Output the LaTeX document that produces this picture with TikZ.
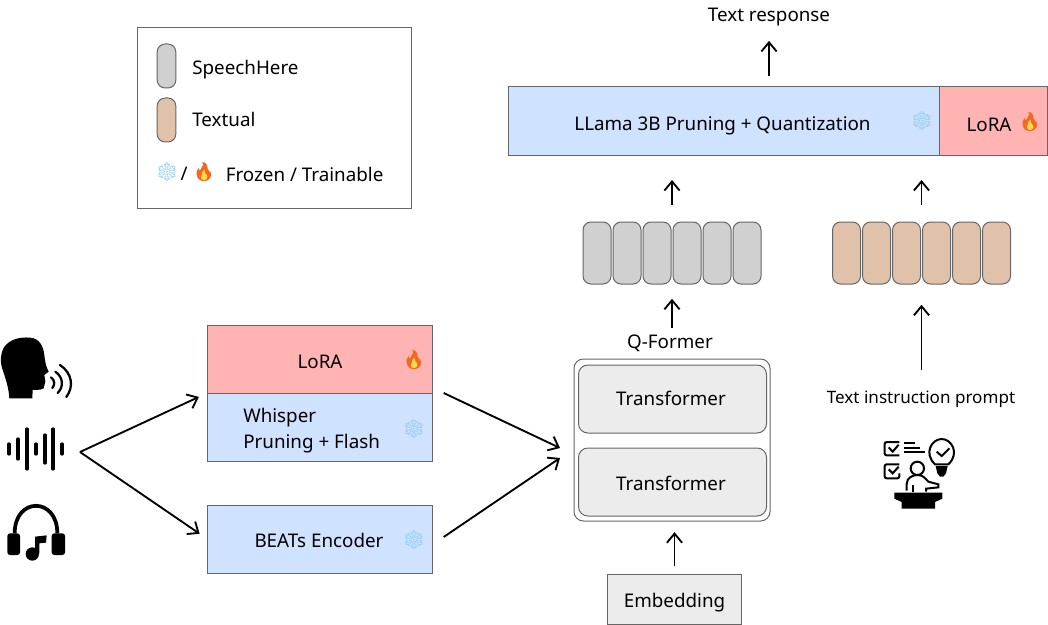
\documentclass[tikz,border=0pt]{standalone}
\usepackage{fontspec}
\usepackage{xcolor}
\usetikzlibrary{arrows.meta, positioning, fit}
\setmainfont{Noto Sans}
\newfontfamily\emojifont{Noto Emoji}
\definecolor{frozenblue}{HTML}{CFE2FF}
\definecolor{lorared}{HTML}{FFB3B3}
\definecolor{speechgray}{HTML}{D0D0D0}
\definecolor{texttan}{HTML}{DFC2A9}
\definecolor{lightgray}{HTML}{ECECEC}
\definecolor{edgegray}{HTML}{666666}
\definecolor{snowblue}{HTML}{8CCBF3}
\definecolor{flameorange}{HTML}{F4691F}
\definecolor{flameyellow}{HTML}{FFD84D}
\newcommand{\snowicon}{{\emojifont\fontsize{14pt}{14pt}\selectfont\textcolor{snowblue}{❄}}}
\newcommand{\flameicon}{{\emojifont\fontsize{14pt}{14pt}\selectfont\textcolor{flameorange}{🔥}}}

\begin{document}
\begin{tikzpicture}[
    x=0.75pt, y=-0.75pt,
    font=\fontsize{14.1pt}{20pt}\selectfont,
    box/.style={draw=edgegray, line width=0.75pt, align=center, inner sep=0pt, outer sep=0pt},
    frozen/.style={box, fill=frozenblue},
    lora/.style={box, fill=lorared},
    token/.style={draw=edgegray, line width=0.75pt, rounded corners=6pt, minimum width=21pt, minimum height=46.5pt, inner sep=0pt},
    speechtoken/.style={token, fill=speechgray},
    texttoken/.style={token, fill=texttan},
    blockbox/.style={draw=edgegray, line width=0.75pt, rounded corners=7pt, fill=lightgray, minimum width=141pt, minimum height=51pt},
    label/.style={inner sep=0pt},
    arrow/.style={-{Straight Barb[length=2.4mm, width=4mm]}, line width=1.4pt},
    flamefill/.pic={
        \fill[flameorange] (0,8.5) .. controls (-5,8.5) and (-7,5) .. (-6.5,1) .. controls (-6,-2) and (-4,-3) .. (-3.5,-2) .. controls (-3,-5) and (-1,-7) .. (1,-8.5) .. controls (1,-5) and (6,-2) .. (6.5,3) .. controls (6.5,6) and (4,8.5) .. (0,8.5) -- cycle;
        \fill[flameyellow] (0,8) .. controls (-3,8) and (-4,5) .. (-3,2.5) .. controls (-2,1) and (-1,-1) .. (0,-2.5) .. controls (1,0) and (4,3) .. (3.5,5.5) .. controls (3,7.5) and (1.5,8) .. (0,8) -- cycle;
    }
]
\useasboundingbox (0,0) rectangle (1048,624);

% legend
\node[draw=edgegray, line width=0.75pt, minimum width=205.5pt, minimum height=135pt] (legend) at (274,118) {};
\node[speechtoken, minimum width=14pt, minimum height=33pt] (legendspeech) at (166.5,66) {};
\node[texttoken, minimum width=14pt, minimum height=33pt] (legendtext) at (166.5,120) {};
\node[label, anchor=west] (legendspeechlabel) at (192,69.5) {SpeechHere};
\node[label, anchor=west] (legendtextlabel) at (192,119) {Textual};
\node[label] (legendsnow) at (167,172) {\snowicon};
\node[label] (legendslash) at (184,174) {/};
\pic at (204,172) {flamefill};
\node[label] (legendflame) at (204,172) {\flameicon};
\node[label, anchor=west] (legendlabel) at (225.5,174) {Frozen / Trainable};

% top bar
\node[frozen, minimum width=323.5pt, minimum height=51pt] (llama) at (723.75,121) {};
\node[lora, minimum width=81pt, minimum height=51pt, right=0pt of llama] (toplora) {};
\node[label] (llamalabel) at (722.5,126) {LLama 3B Pruning + Quantization};
\node[label] (llamasnow) at (922,121) {\snowicon};
\node[label] (toploralabel) at (989,125) {LoRA};
\pic at (1030,122) {flamefill};
\node[label] (toploraflame) at (1030,122) {\flameicon};
\node[label] (response) at (769,17) {Text response};

% tokens
\foreach \i/\x in {1/597, 2/627, 3/657, 4/687, 5/717, 6/747}
    \node[speechtoken] (speech\i) at (\x,253) {};
\foreach \i/\x in {1/846.5, 2/876.5, 3/906.5, 4/936.5, 5/966.5, 6/996.5}
    \node[texttoken] (text\i) at (\x,253) {};
\node[fit=(speech1)(speech6), inner sep=0pt] (speechrow) {};
\node[fit=(text1)(text6), inner sep=0pt] (textrow) {};

% q-former
\node[label] (qformer) at (670,343) {Q-Former};
\node[draw=edgegray, line width=0.75pt, rounded corners=7pt, minimum width=147pt, minimum height=121.5pt] (qbox) at (672,440) {};
\node[blockbox] (transa) at (672.5,399) {};
\node[label] (transalabel) at (671,398) {Transformer};
\node[blockbox] (transb) at (672.5,482) {};
\node[label] (transblabel) at (671,483) {Transformer};
\node[box, fill=lightgray, minimum width=100pt, minimum height=37pt] (embedding) at (674.5,599.5) {};
\node[label] (embeddinglabel) at (674.5,602.5) {Embedding};

% encoders
\node[lora, minimum width=169pt, minimum height=51pt] (enclora) at (320,359) {};
\node[frozen, minimum width=169pt, minimum height=51pt, below=0pt of enclora] (whisper) {};
\node[frozen, minimum width=169pt, minimum height=51pt] (beats) at (320,539) {};
\node[label] (encloralabel) at (320,362) {LoRA};
\pic at (414,360) {flamefill};
\node[label] (encloraflame) at (414,360) {\flameicon};
\node[label, anchor=west, align=left] (whisperlabel) at (243,430.5) {Whisper\\Pruning + Flash};
\node[label] (whispersnow) at (414,429) {\snowicon};
\node[label] (beatslabel) at (319,540) {BEATs Encoder};
\node[label] (beatssnow) at (414,540) {\snowicon};

\node[label, font=\fontsize{12.8pt}{16pt}\selectfont] (prompt) at (921,399) {Text instruction prompt};

\coordinate (fork) at (80,452);
\coordinate[right=8.25pt of whisper.north east] (whisperout);
\coordinate[right=8.25pt of beats.east, yshift=1.5pt] (beatsout);
\coordinate (mergetop) at (560,448);
\coordinate (mergelow) at (560,458);

% arrows
\draw[arrow, xshift=0.75pt, shorten <=8pt, shorten >=11pt] (response |- llama.north) -- (response.south);
\draw[arrow, shorten <=12pt, shorten >=18.75pt] (speechrow) -- (speechrow |- llama.south);
\draw[arrow, shorten <=12pt, shorten >=18.75pt] (textrow) -- (textrow |- llama.south);
\draw[arrow, shorten <=5pt, shorten >=10.5pt] (speechrow |- qformer.north) -- (speechrow.south);
\draw[arrow, shorten <=15pt, shorten >=15pt] (textrow |- prompt.north) -- (textrow.south);
\draw[arrow, shorten <=6.75pt, shorten >=8pt] (embedding) -- (embedding |- qbox.south);
\draw[arrow, shorten >=7pt] (fork) -- (whisper.north west);
\draw[arrow, shorten >=7pt] (fork) -- (beats.west);
\draw[arrow] (whisperout) -- (mergetop);
\draw[arrow] (beatsout) -- (mergelow);

% speaking head
\begin{scope}[shift={(0,320)}, x=0.25pt, y=-0.25pt]
\fill (28,235) .. controls (26,205) and (20,185) .. (8,150) .. controls (0,125) and (0,105) .. (12,82) .. controls (28,58) and (60,50) .. (90,53) .. controls (118,55) and (130,78) .. (133,105) .. controls (135,125) and (138,140) .. (146,155) -- (133,165) -- (136,184) -- (131,205) .. controls (120,212) and (108,208) .. (98,210) -- (97,235) -- cycle;
\draw[line width=1.7pt, line cap=round] (153,172) .. controls (165,180) and (165,195) .. (157,204);
\draw[line width=1.7pt, line cap=round] (166,155) .. controls (190,172) and (192,200) .. (173,219);
\draw[line width=1.7pt, line cap=round] (180,135) .. controls (217,160) and (222,200) .. (199,231);
\end{scope}

% waveform
\begin{scope}[line width=2.4pt, line cap=round]
\foreach \x/\h in {9/5, 18/10, 27/20, 36/5, 45/14, 53/20, 62/5}
    \draw (\x,449-\h) -- (\x,449+\h);
\end{scope}

% headphones
\begin{scope}[shift={(0,320)}, x=0.25pt, y=-0.25pt]
\draw[line width=2.8pt] (44,640) .. controls (44,530) and (172,530) .. (172,640);
\fill[rounded corners=2pt] (22,640) rectangle (60,705);
\fill[rounded corners=2pt] (155,640) rectangle (195,705);
\fill (97,702) circle (20);
\fill (105,700) -- (105,650) -- (140,646) -- (138,668) -- (118,670) -- (118,700) -- cycle;
\end{scope}

% speaker with checklist
\begin{scope}[shift={(860,420)}, x=0.25pt, y=-0.25pt, line width=1.5pt]
\draw[rounded corners=1.5pt] (118,66) -- (74,66) -- (74,106) -- (118,106);
\draw[rounded corners=1.5pt] (118,133) -- (74,133) -- (74,175) -- (118,175) -- (118,160);
\draw (86,82) -- (98,95) -- (116,74);
\draw (86,148) -- (98,160) -- (116,140);
\draw (132,70) -- (165,70);
\draw (132,84) -- (180,84);
\draw (132,97) -- (195,97);
\draw (225,133) .. controls (190,100) and (215,57) .. (245,57) .. controls (275,57) and (300,100) .. (265,133) -- cycle;
\draw (230,95) -- (245,108) -- (268,85);
\fill (227,138) -- (263,138) -- (258,160) -- (250,170) -- (240,170) -- (232,160) -- cycle;
\draw (172,145) circle (20);
\draw (140,212) -- (140,192) .. controls (140,172) and (160,165) .. (172,165) .. controls (190,165) and (195,175) .. (205,185) -- (235,193) -- (235,202) -- (198,206) -- (198,215);
\draw (158,195) -- (158,215);
\fill (103,218) -- (247,218) -- (247,236) -- (225,246) -- (225,266) -- (125,266) -- (125,246) -- (103,236) -- cycle;
\end{scope}

\end{tikzpicture}
\end{document}
